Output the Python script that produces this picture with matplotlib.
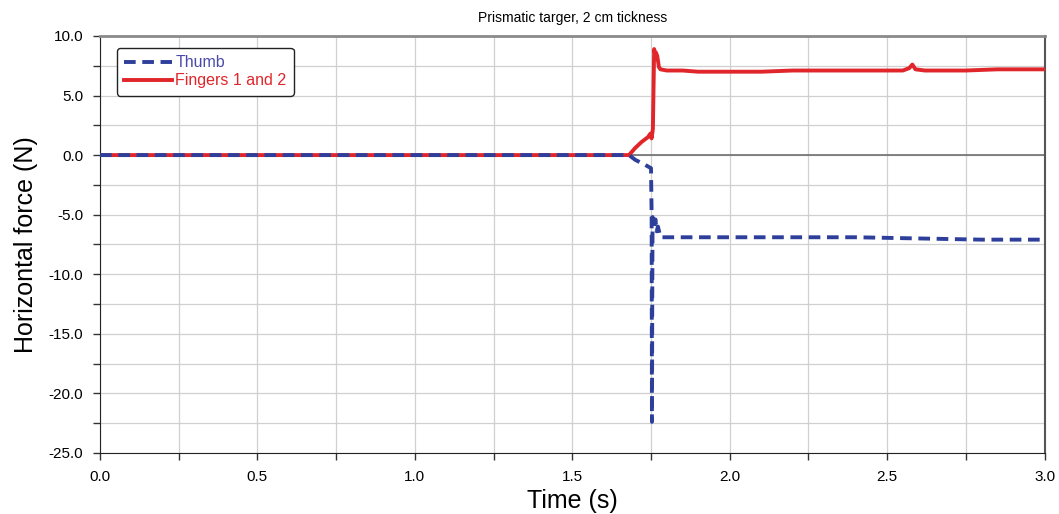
import matplotlib
matplotlib.use("Agg")
import matplotlib.pyplot as plt
from matplotlib.ticker import MultipleLocator, FormatStrFormatter

plt.rcParams["font.family"] = ["Liberation Sans", "DejaVu Sans"]

# Data (time in s, force in N)
t_fingers = [0.0, 1.68, 1.70, 1.72, 1.74, 1.748, 1.752, 1.756, 1.758, 1.760, 1.763, 1.766, 1.770,
             1.775, 1.780, 1.80, 1.85, 1.90, 2.00, 2.10, 2.20, 2.40, 2.55, 2.57,
             2.58, 2.59, 2.62, 2.75, 2.85, 2.90, 3.0]
f_fingers = [0.0, 0.0, 0.6, 1.1, 1.5, 1.8, 1.4, 2.2, 5.5, 8.9, 8.5, 8.6, 8.3,
             7.4, 7.2, 7.1, 7.1, 7.0, 7.0, 7.0, 7.1, 7.1, 7.1, 7.3,
             7.6, 7.2, 7.1, 7.1, 7.2, 7.2, 7.2]

t_thumb = [0.0, 1.68, 1.70, 1.73, 1.750, 1.752, 1.753, 1.754, 1.755, 1.757, 1.760,
           1.764, 1.768, 1.772, 1.780, 1.80, 1.90, 2.00, 2.20, 2.40, 2.60, 2.80, 3.0]
f_thumb = [0.0, 0.0, -0.4, -0.8, -1.1, -5.0, -22.4, -12.0, -5.2, -5.6, -6.0,
           -5.4, -6.4, -6.0, -6.9, -6.9, -6.9, -6.9, -6.9, -6.9, -7.0, -7.1, -7.1]

red = "#e0262a"
blue = "#2d3f9b"

fig = plt.figure(figsize=(10.59, 5.14), dpi=100)
ax = fig.add_axes([0.0944, 0.119, 0.892, 0.811])

ax.plot(t_fingers, f_fingers, color=red, lw=2.8, label="Fingers 1 and 2", zorder=3)
ax.plot(t_thumb, f_thumb, color=blue, lw=2.8, ls=(0, (3.0, 1.7)), label="Thumb", zorder=4)

ax.axhline(0, color="#6e6e6e", lw=1.2, zorder=2)

ax.set_xlim(0, 3.0)
ax.set_ylim(-25, 10)
ax.xaxis.set_major_locator(MultipleLocator(0.5))
ax.xaxis.set_minor_locator(MultipleLocator(0.25))
ax.yaxis.set_major_locator(MultipleLocator(5))
ax.yaxis.set_minor_locator(MultipleLocator(2.5))
ax.xaxis.set_major_formatter(FormatStrFormatter("%.1f"))
ax.yaxis.set_major_formatter(FormatStrFormatter("%.1f"))
ax.grid(True, which="both", color="#d0d0d0", lw=0.9, zorder=0)
ax.set_axisbelow(True)

ax.tick_params(which="both", direction="out", length=5, width=1, color="#333333", labelsize=11)
ax.tick_params(which="major", pad=7)

for side in ["left", "bottom"]:
    ax.spines[side].set_color("#222222")
ax.spines["top"].set_color("#8a8a8a")
ax.spines["top"].set_linewidth(2)
ax.spines["right"].set_color("#555555")
ax.spines["right"].set_linewidth(1.5)

ax.set_title("Prismatic targer, 2 cm tickness", fontsize=10, pad=10)
ax.set_xlabel("Time (s)", fontsize=18, labelpad=4)
ax.set_ylabel("Horizontal force (N)", fontsize=18, labelpad=8)

h, l = ax.get_legend_handles_labels()
leg = ax.legend(h[::-1], l[::-1], loc="upper left", bbox_to_anchor=(0.018, 0.971),
                borderaxespad=0, fontsize=11.5,
                handlelength=3.0, handletextpad=0.2, borderpad=0.45,
                labelspacing=0.2, framealpha=1, edgecolor="#222222", fancybox=True)
leg.get_frame().set_linewidth(1.0)
leg.texts[0].set_color("#4a4aa8")
leg.texts[1].set_color(red)

fig.savefig("out.png", dpi=100)
